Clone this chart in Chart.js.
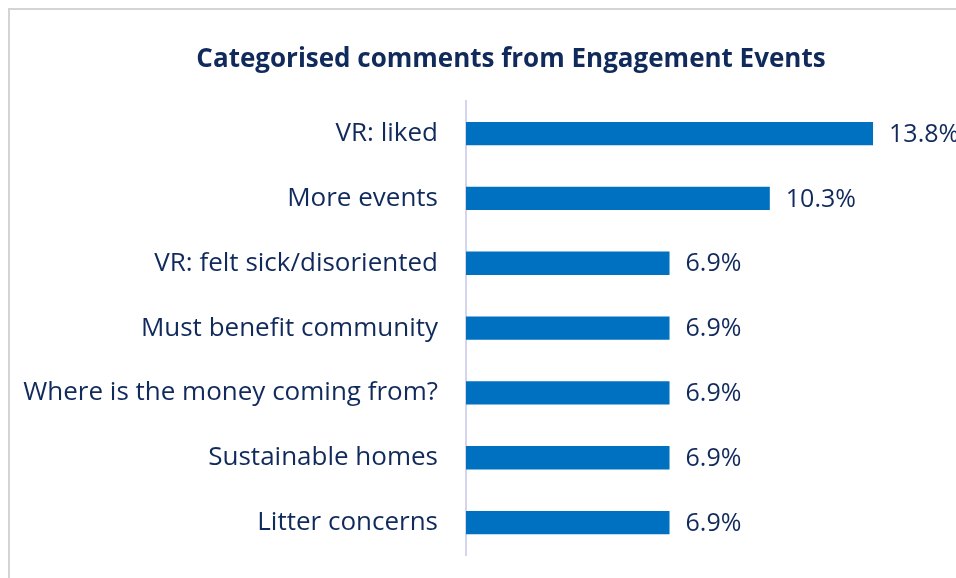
<!DOCTYPE html>
<html>
<head>
<meta charset="utf-8">
<script src="https://cdn.jsdelivr.net/npm/chart.js@4.4.1/dist/chart.umd.min.js"></script>
<style>
  html, body { margin: 0; padding: 0; background: #fff; overflow: hidden; }
  #frame {
    position: absolute; left: 8px; top: 8px; width: 1100px; height: 700px;
    border-left: 2px solid #d4d4d4; border-top: 2px solid #d4d4d4;
    box-sizing: border-box;
  }
  #wrap { position: absolute; left: 0; top: 0; width: 1022px; height: 578px; }
</style>
</head>
<body>
<div id="frame"></div>
<div id="wrap"><canvas id="chart" width="1022" height="578"></canvas></div>
<script>
// ─── Data ─────────────────────────────────────────────────────────────────────
const categories = [
  'VR: liked',
  'More events',
  'VR: felt sick/disoriented',
  'Must benefit community',
  'Where is the money coming from?',
  'Sustainable homes',
  'Litter concerns',
];
const shares = [13.8, 10.3, 6.9, 6.9, 6.9, 6.9, 6.9];

const NAVY = '#112a5c';
const FONT = 'Open Sans';

// Value labels to the right of each bar
const valueLabels = {
  id: 'valueLabels',
  afterDatasetsDraw(chart) {
    const { ctx } = chart;
    const meta = chart.getDatasetMeta(0);
    ctx.save();
    ctx.font = `25px "${FONT}"`;
    ctx.fillStyle = NAVY;
    ctx.textAlign = 'left';
    ctx.textBaseline = 'middle';
    meta.data.forEach((bar, i) => {
      ctx.fillText(shares[i].toFixed(1) + '%', bar.x + 16, bar.y + 1);
    });
    ctx.restore();
  },
};

new Chart(document.getElementById('chart').getContext('2d'), {
  type: 'bar',
  data: {
    labels: categories,
    datasets: [{
      data: shares,
      backgroundColor: '#0070c0',
      borderWidth: 0,
      categoryPercentage: 1,
      barPercentage: 0.36,
    }],
  },
  plugins: [valueLabels],
  options: {
    indexAxis: 'y',
    responsive: false,
    animation: false,
    layout: { padding: { left: 0, right: 0, top: 0, bottom: 23 } },
    plugins: {
      legend: { display: false },
      tooltip: { enabled: false },
      title: {
        display: true,
        text: 'Categorised comments from Engagement Events',
        color: NAVY,
        font: { family: FONT, size: 26, weight: 'bold', lineHeight: 1.2 },
        padding: { top: 44, bottom: 26 },
      },
    },
    scales: {
      x: { display: false, min: 0, max: 18.85 },
      y: {
        afterFit: (scale) => {
          scale.width = 466;
          scale.paddingTop = 0;
          scale.paddingBottom = 0;
        },
        grid: { display: false, drawTicks: false },
        border: { display: true, color: '#d4d4ee', width: 2 },
        ticks: {
          color: NAVY,
          padding: 28,
          font: { family: FONT, size: 26 },
        },
      },
    },
  },
});
</script>
</body>
</html>
